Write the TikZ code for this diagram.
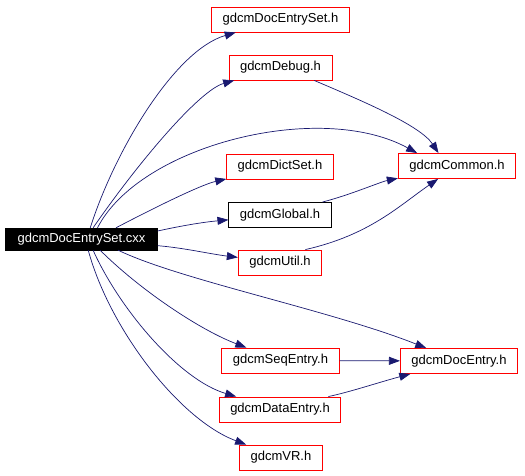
\documentclass[tikz,border=0pt]{standalone}
\usepackage{fontspec}
\setmainfont{Liberation Sans}
\usepackage{xcolor}
\usetikzlibrary{arrows.meta, positioning}
\definecolor{edgeblue}{RGB}{25,25,112}
\tikzset{
  %% Header file box
  hfile/.style={
    rectangle, draw=#1, fill=white,
    font=\fontsize{13}{15}\selectfont,
    inner xsep=11pt, inner ysep=0pt,
    minimum height=25pt, line width=0.9pt
  },
  hfile/.default=red,
  %% Source file (root)
  srcfile/.style={
    rectangle, draw=black, fill=black, text=white,
    font=\fontsize{13}{15}\selectfont,
    inner xsep=12pt, inner ysep=0pt,
    minimum height=22pt
  },
  %% Include arrow
  dep/.style={-{Triangle[length=11pt,width=8pt]},
              draw=edgeblue, line width=0.7pt},
}
\begin{document}
\begin{tikzpicture}[x=1pt, y=-1pt]
  \useasboundingbox (0,0) rectangle (525,475);

  %% Files
  \node[srcfile] (root)      at (81.5,239)  {gdcmDocEntrySet.cxx};
  \node[hfile]   (entryset)  at (280.5,19.5) {gdcmDocEntrySet.h};
  \node[hfile]   (debug)     at (280.5,67.5) {gdcmDebug.h};
  \node[hfile]   (common)    at (457,166)   {gdcmCommon.h};
  \node[hfile]   (dictset)   at (280,166.5) {gdcmDictSet.h};
  \node[hfile=black] (global) at (280,215)  {gdcmGlobal.h};
  \node[hfile]   (util)      at (280,262.5) {gdcmUtil.h};
  \node[hfile]   (docentry)  at (459,361)   {gdcmDocEntry.h};
  \node[hfile]   (seqentry)  at (280.5,360.5) {gdcmSeqEntry.h};
  \node[hfile]   (dataentry) at (280,409.5) {gdcmDataEntry.h};
  \node[hfile]   (vr)        at (281,457.5) {gdcmVR.h};

  %% Includes of the source file
  \draw[dep] (root.52)  .. controls (115,150) and (175,50)  .. (entryset);
  \draw[dep] (root.44)  .. controls (140,160) and (200,90)  .. (debug);
  \draw[dep] (root.35)  .. controls (140,145) and (320,100) .. (common.162);
  \draw[dep] (root.18)  .. controls (150,210) and (200,185) .. (dictset);
  \draw[dep] (root.6)   .. controls (185,225) and (205,222) .. (global);
  \draw[dep] (root.-5)  .. controls (185,248) and (210,254) .. (util);
  \draw[dep] (root.-17) .. controls (180,280) and (330,310) .. (docentry);
  \draw[dep] (root.-31) .. controls (140,290) and (200,330) .. (seqentry);
  \draw[dep] (root.-44) .. controls (120,310) and (180,380) .. (dataentry);
  \draw[dep] (root.-59) .. controls (110,330) and (180,420) .. (vr);

  %% Includes between headers
  \draw[dep] (debug.-21)    .. controls (360,100) and (420,125) .. (common.145);
  \draw[dep] (global.17)    .. controls (350,195) and (380,182) .. (common);
  \draw[dep] (util.27)      .. controls (370,235) and (400,205) .. (common);
  \draw[dep] (seqentry)     -- (docentry);
  \draw[dep] (dataentry.15) .. controls (350,392) and (380,382) .. (docentry);

\end{tikzpicture}
\end{document}
